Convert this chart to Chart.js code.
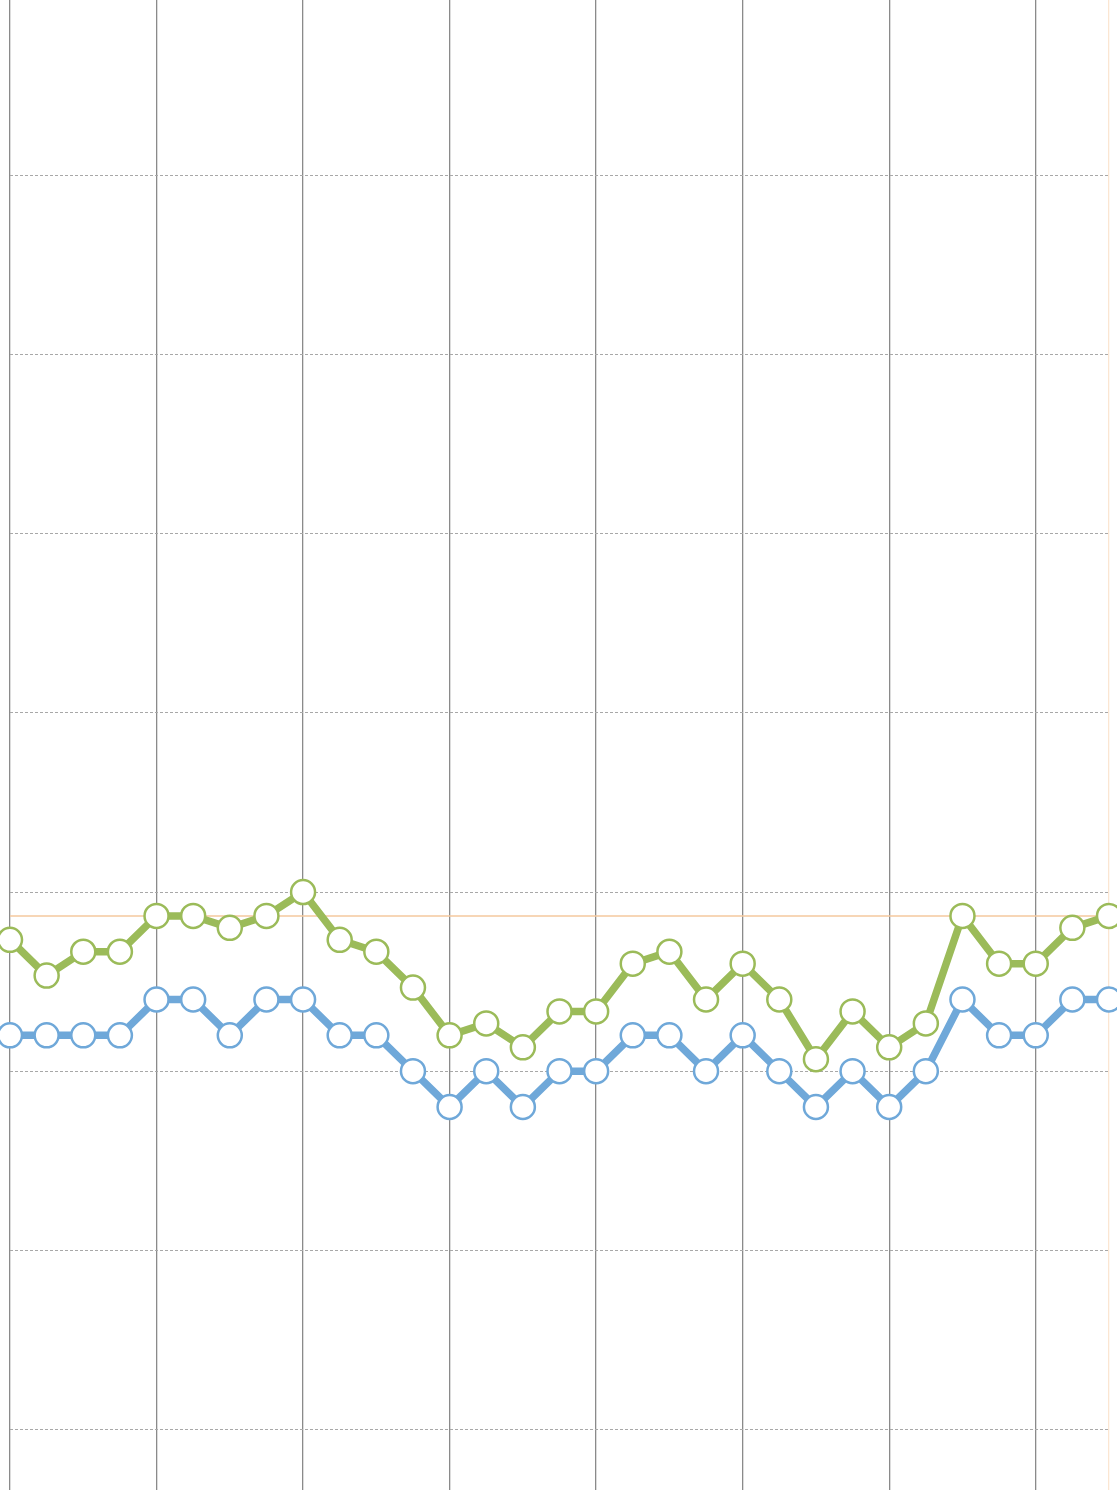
<!DOCTYPE html>
<html>
<head>
<meta charset="UTF-8">
<title>Line chart</title>
<style>
	html, body { margin: 0; padding: 0; background: #fff; }
	#wrap { width: 1117px; height: 1490px; }
</style>
</head>
<body>
	<script src="https://cdn.jsdelivr.net/npm/chart.js"></script>

	<div id="wrap">
		<canvas id="lineChart"></canvas>
	</div>

	<script>
		// 데이터
		const labels = ['1','2','3','4','5','6','7','8','9','10','11','12','13','14','15','16',
			'17','18','19','20','21','22','23','24','25','26','27','28','29','30','31'];
		const greenData = [56, 53, 55, 55, 58, 58, 57, 58, 60, 56, 55, 52, 48, 49, 47, 50,
			50, 54, 55, 51, 54, 51, 46, 50, 47, 49, 58, 54, 54, 57, 58];
		const blueData = [48, 48, 48, 48, 51, 51, 48, 51, 51, 48, 48, 45, 42, 45, 42, 45,
			45, 48, 48, 45, 48, 45, 42, 45, 42, 45, 51, 48, 48, 51, 51];
		const limitValue = 58;
		const yTicks = [15, 30, 45, 60, 75, 90, 105, 120];

		const ctx = document.getElementById('lineChart').getContext('2d');

		const lineChart = new Chart(ctx, {
			type: 'line',
			data: {
				labels: labels,
				datasets: [
					{
						label: 'Green',
						data: greenData,
						borderColor: '#9bbb59',
						borderWidth: 7.5,
						pointRadius: 12,
						pointBorderWidth: 2.5,
						pointBackgroundColor: '#ffffff',
						pointBorderColor: '#9bbb59',
						tension: 0,
						clip: false,
						order: 1
					},
					{
						label: 'Blue',
						data: blueData,
						borderColor: '#6fa8d9',
						borderWidth: 7.5,
						pointRadius: 12,
						pointBorderWidth: 2.5,
						pointBackgroundColor: '#ffffff',
						pointBorderColor: '#6fa8d9',
						tension: 0,
						clip: false,
						order: 2
					},
					{
						label: 'Limit',
						data: labels.map(() => limitValue),
						borderColor: '#f5c89e',
						borderWidth: 1.5,
						pointRadius: 0,
						clip: false,
						order: 3
					}
				]
			},
			options: {
				responsive: true,
				maintainAspectRatio: false,
				animation: false,
				layout: {
					autoPadding: false,
					padding: { left: 10, right: 8, top: 0, bottom: 0 }
				},
				plugins: {
					legend: { display: false },
					tooltip: { enabled: false }
				},
				scales: {
					x: {
						type: 'category',
						offset: false,
						ticks: { display: false },
						border: { display: false },
						grid: {
							drawTicks: false,
							lineWidth: 1.3,
							color: function(c){
								if (c.index === labels.length - 1) return '#fbe6d2';
								return c.index % 4 === 0 ? '#8a8a8a' : 'rgba(0,0,0,0)';
							}
						}
					},
					y: {
						min: 9.93,
						max: 134.69,
						afterBuildTicks: function(scale){
							scale.ticks = yTicks.map(v => ({ value: v }));
						},
						ticks: { display: false },
						border: { display: false, dash: [3, 2] },
						grid: {
							drawTicks: false,
							color: '#a8a8a8',
							lineWidth: 1
						}
					}
				}
			}
		});
	</script>
</body>
</html>
